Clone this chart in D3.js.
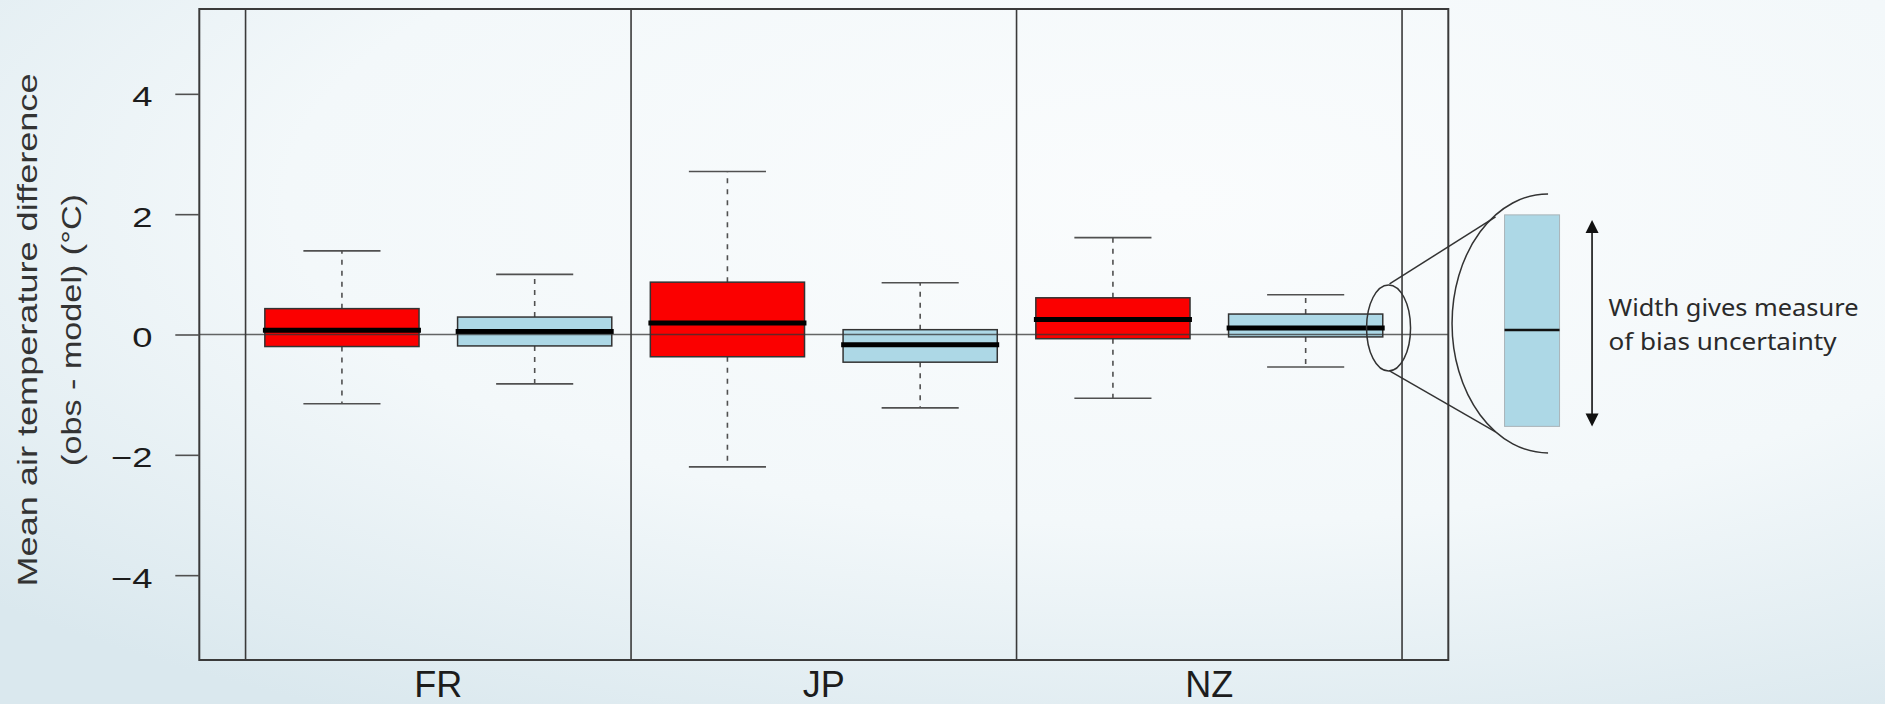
<!DOCTYPE html>
<html>
<head>
<meta charset="utf-8">
<script src="https://cdn.jsdelivr.net/npm/d3@7"></script>
<style>
  html, body { margin: 0; padding: 0; overflow: hidden; }
  svg { display: block; }
</style>
</head>
<body>
<div id="chart"></div>
<script>
var sites = ["FR", "JP", "NZ"];
// low whisker, lower quartile, median, upper quartile, high whisker
var redBoxes = [
  [-1.15, -0.20, 0.07, 0.43, 1.39],
  [-2.20, -0.37, 0.19, 0.87, 2.71],
  [-1.06, -0.07, 0.25, 0.61, 1.61]
];
var blueBoxes = [
  [-0.82, -0.19, 0.05, 0.29, 1.00],
  [-1.22, -0.46, -0.17, 0.08, 0.86],
  [-0.54, -0.04, 0.11, 0.34, 0.66]
];
var yTicks = [-4, -2, 0, 2, 4];
var seriesColors = ["#fb0000", "#add8e6"];
var yTitle = ["Mean air temperature difference", "(obs - model) (°C)"];
var noteLines = ["Width gives measure", "of bias uncertainty"];

var w = 1885, h = 704;
var x = d3.scaleLinear().domain([0.26, 6.74]).range([199.3, 1448.3]);
var y = d3.scaleLinear().domain([-5.41, 5.41]).range([660, 9]);

// one entry per box, two boxes per site
var boxes = [];
sites.forEach(function (s, i) {
  boxes.push({ site: s, pos: 2 * i + 1, v: redBoxes[i], color: seriesColors[0] });
  boxes.push({ site: s, pos: 2 * i + 2, v: blueBoxes[i], color: seriesColors[1] });
});

var svg = d3.select("#chart").append("svg").attr("width", w).attr("height", h);

var defs = svg.append("defs");
var grad = defs.append("radialGradient").attr("id", "bg")
  .attr("cx", "62%").attr("cy", "28%").attr("r", "85%");
grad.append("stop").attr("offset", "0%").attr("stop-color", "#fafcfd");
grad.append("stop").attr("offset", "55%").attr("stop-color", "#f3f8fa");
grad.append("stop").attr("offset", "100%").attr("stop-color", "#dae8ee");
svg.append("rect").attr("width", w).attr("height", h).attr("fill", "url(#bg)");

var plot = svg.append("g");
var lineColor = "#3a3a3a";

// whiskers
plot.selectAll(".whisker")
  .data(boxes.flatMap(function (b) {
    return [{ pos: b.pos, a: b.v[3], b: b.v[4] }, { pos: b.pos, a: b.v[1], b: b.v[0] }];
  }))
  .enter().append("line")
  .attr("x1", function (d) { return x(d.pos); })
  .attr("x2", function (d) { return x(d.pos); })
  .attr("y1", function (d) { return y(d.a); })
  .attr("y2", function (d) { return y(d.b); })
  .attr("stroke", "#505050").attr("stroke-width", 1.6)
  .attr("stroke-dasharray", "5,6");

// caps
plot.selectAll(".cap")
  .data(boxes.flatMap(function (b) {
    return [{ pos: b.pos, v: b.v[0] }, { pos: b.pos, v: b.v[4] }];
  }))
  .enter().append("line")
  .attr("x1", function (d) { return x(d.pos - 0.2); })
  .attr("x2", function (d) { return x(d.pos + 0.2); })
  .attr("y1", function (d) { return y(d.v); })
  .attr("y2", function (d) { return y(d.v); })
  .attr("stroke", "#505050").attr("stroke-width", 1.6);

// boxes
plot.selectAll(".box")
  .data(boxes).enter().append("rect")
  .attr("x", function (d) { return x(d.pos - 0.4); })
  .attr("width", function (d) { return x(d.pos + 0.4) - x(d.pos - 0.4); })
  .attr("y", function (d) { return y(d.v[3]); })
  .attr("height", function (d) { return y(d.v[1]) - y(d.v[3]); })
  .attr("fill", function (d) { return d.color; })
  .attr("stroke", "#333").attr("stroke-width", 1.5);

// medians
plot.selectAll(".median")
  .data(boxes).enter().append("line")
  .attr("x1", function (d) { return x(d.pos - 0.41); })
  .attr("x2", function (d) { return x(d.pos + 0.41); })
  .attr("y1", function (d) { return y(d.v[2]); })
  .attr("y2", function (d) { return y(d.v[2]); })
  .attr("stroke", "#000").attr("stroke-width", 5);

// zero line, over the boxes
plot.append("line")
  .attr("x1", x.range()[0]).attr("x2", x.range()[1])
  .attr("y1", y(0)).attr("y2", y(0))
  .attr("stroke", "#333").attr("stroke-width", 1.6).attr("stroke-opacity", 0.75);

// site dividers
plot.selectAll(".divider")
  .data([0.5, 2.5, 4.5, 6.5]).enter().append("line")
  .attr("x1", function (d) { return x(d); })
  .attr("x2", function (d) { return x(d); })
  .attr("y1", y.range()[0]).attr("y2", y.range()[1])
  .attr("stroke", lineColor).attr("stroke-width", 1.6);

// frame
plot.append("rect")
  .attr("x", x.range()[0]).attr("y", y.range()[1])
  .attr("width", x.range()[1] - x.range()[0])
  .attr("height", y.range()[0] - y.range()[1])
  .attr("fill", "none").attr("stroke", lineColor).attr("stroke-width", 2);

// y axis
var yAxis = svg.append("g")
  .attr("transform", "translate(" + x.range()[0] + ",0)")
  .call(d3.axisLeft(y).tickValues(yTicks).tickSize(24));
yAxis.select(".domain").remove();
yAxis.selectAll(".tick line").attr("stroke", "#505050").attr("stroke-width", 1.6);
yAxis.selectAll(".tick text")
  .attr("x", -36).attr("dy", "0.43em")
  .attr("transform", "scale(1.3,1)")
  .style("font-family", "'Liberation Sans', Arial, sans-serif")
  .style("font-size", "28px")
  .attr("fill", "#1c1c1c");

// site labels
svg.selectAll(".site")
  .data(sites).enter().append("text")
  .attr("x", function (d, i) { return x(2 * i + 1.5); })
  .attr("y", 697)
  .attr("text-anchor", "middle")
  .style("font-family", "'Liberation Sans', Arial, sans-serif")
  .style("font-size", "36px")
  .attr("fill", "#1c1c1c")
  .text(function (d) { return d; });

// y title, two lines
var titleX = [36.5, 80.5], titleLen = [513, 272];
svg.selectAll(".ytitle")
  .data(yTitle).enter().append("text")
  .attr("transform", function (d, i) { return "translate(" + titleX[i] + ",330) rotate(-90)"; })
  .attr("text-anchor", "middle")
  .attr("textLength", function (d, i) { return titleLen[i]; })
  .attr("lengthAdjust", "spacingAndGlyphs")
  .style("font-family", "'Liberation Sans', Arial, sans-serif")
  .style("font-size", "28px")
  .attr("fill", "#333")
  .text(function (d) { return d; });

// magnifier note, anchored at the end of the NZ blue box median
var ax = x(6.43), ay = y(blueBoxes[2][2]);
var note = svg.append("g").attr("transform", "translate(" + ax + "," + ay + ")");
note.append("ellipse").attr("rx", 22).attr("ry", 43)
  .attr("fill", "none").attr("stroke", "#333").attr("stroke-width", 1.5);
note.append("line").attr("x1", 1).attr("y1", -44).attr("x2", 107).attr("y2", -111)
  .attr("stroke", "#333").attr("stroke-width", 1.5);
note.append("line").attr("x1", 1).attr("y1", 43).attr("x2", 107).attr("y2", 104)
  .attr("stroke", "#333").attr("stroke-width", 1.5);
note.append("path")
  .attr("d", "M159.5,-134 A96,129.5 0 0 0 159.5,125")
  .attr("fill", "none").attr("stroke", "#333").attr("stroke-width", 1.5);
note.append("rect").attr("x", 116).attr("y", -113).attr("width", 55).attr("height", 211.5)
  .attr("fill", seriesColors[1]).attr("stroke", "#a9b4b8").attr("stroke-width", 1);
note.append("line").attr("x1", 116).attr("x2", 171).attr("y1", 2).attr("y2", 2)
  .attr("stroke", "#111").attr("stroke-width", 2.5);
note.append("line").attr("x1", 203.5).attr("x2", 203.5).attr("y1", -100).attr("y2", 90)
  .attr("stroke", "#111").attr("stroke-width", 1.6);
note.append("path").attr("d", "M203.5,-108 L197,-95 L210,-95 Z").attr("fill", "#111");
note.append("path").attr("d", "M203.5,98.5 L197,85.5 L210,85.5 Z").attr("fill", "#111");
var noteLen = [250, 228];
note.selectAll(".note")
  .data(noteLines).enter().append("text")
  .attr("x", 220)
  .attr("y", function (d, i) { return -11.5 + i * 33.3; })
  .attr("textLength", function (d, i) { return noteLen[i]; })
  .attr("lengthAdjust", "spacingAndGlyphs")
  .style("font-family", "'Noto Sans', sans-serif")
  .style("font-size", "24px")
  .attr("fill", "#2a2a2a")
  .text(function (d) { return d; });
</script>
</body>
</html>
